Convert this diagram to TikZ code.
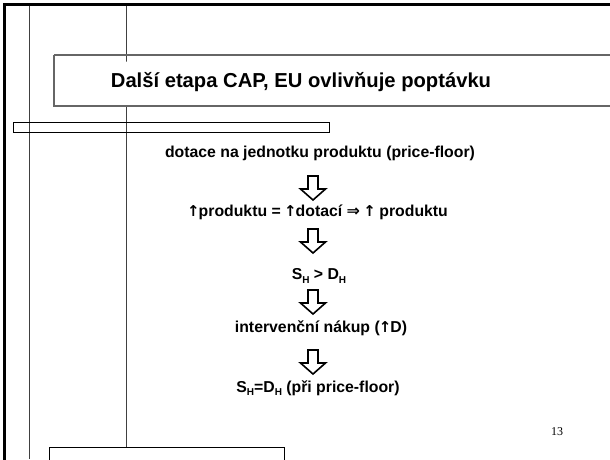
\documentclass[tikz,border=0pt]{standalone}
\usepackage{fontspec}
\setmainfont{Liberation Sans}
\newfontfamily\serifnum{Liberation Serif}
\newfontfamily\arrowfont{DejaVu Sans}
\newcommand\subH{\raisebox{-0.45ex}{\fontsize{10}{10}\selectfont H}}
\newcommand\upar{{\arrowfont\fontsize{15}{18}\selectfont\kern-1pt↑\kern-1pt}}
\newcommand\dimpl{{\arrowfont\fontsize{16}{18}\selectfont ⇒}}
\begin{document}
\begin{tikzpicture}[x=1pt,y=-1pt,
  thickframe/.style={line width=3pt,black},
  guide/.style={line width=0.9pt,black!75},
  titlebox/.style={line width=1.2pt,black!60},
  thinbox/.style={line width=0.9pt,black},
  body/.style={font=\fontsize{15.8}{18}\selectfont\bfseries,inner sep=0pt,anchor=center},
  downarrow/.pic={\draw[line width=1.6pt,line join=miter] (-5,0) -- (5,0) -- (5,13) -- (12.5,13) -- (0,24) -- (-12.5,13) -- (-5,13) -- cycle;}
]
\useasboundingbox (0,0) rectangle (610,459);
% frame and guide lines
\draw[guide] (29,4) -- (29,459);
\draw[guide] (126,4) -- (126,447);
\draw[titlebox,fill=white] (54,55) -- (612,55) (612,106) -- (54,106) -- (54,55);
\draw[thinbox] (13,122) rectangle (329,132);
\draw[thinbox] (49,447) -- (284,447) (49,447) -- (49,462) (284,447) -- (284,462);
\draw[thickframe] (4,461) -- (4,4) -- (612,4);
% title
\node[font=\fontsize{20.2}{24}\selectfont\bfseries,inner sep=0pt] (title) at (301,82) {Další etapa CAP, EU ovlivňuje poptávku};
% chain
\node[body] (t1) at (320,153) {dotace na jednotku produktu (price-floor)};
\pic at (313,176) {downarrow};
\node[body] (t2) at (318,212) {\upar produktu = \upar dotací \dimpl{} \upar{} produktu};
\pic at (313,229) {downarrow};
\node[body] (t3) at (319,276) {S\subH{} > D\subH};
\pic at (313,290) {downarrow};
\node[body] (t4) at (321,328) {intervenční nákup (\upar D)};
\pic at (313,350) {downarrow};
\node[body] (t5) at (318,388) {S\subH=D\subH{} (při price-floor)};
\node[font=\fontsize{12}{14}\selectfont\serifnum,inner sep=0pt] (num) at (557,432) {13};
\end{tikzpicture}
\end{document}
